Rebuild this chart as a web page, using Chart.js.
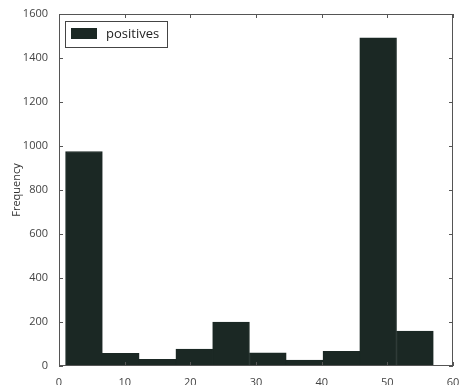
<!DOCTYPE html>
<html>
<head>
<meta charset="utf-8">
<script src="https://cdn.jsdelivr.net/npm/chart.js@4/dist/chart.umd.min.js"></script>
<style>
  html, body { margin: 0; padding: 0; background: #fff; }
  #wrap { width: 463px; height: 385px; }
</style>
</head>
<body>
<div id="wrap"><canvas id="grafico" width="463" height="385"></canvas></div>
<script>
// histograma: centros dos bins e frequencias
const binStart = 1.0;
const binWidth = 5.6;
const frequencias = [975, 58, 30, 77, 200, 60, 27, 67, 1492, 159];
const rotulo = 'positives';
const corBarra = '#1b2824';

const centros = frequencias.map((f, i) => binStart + binWidth * (i + 0.5));
const pontos = centros.map((c, i) => ({ x: c, y: frequencias[i] }));

// moldura, ticks para dentro e legenda no estilo matplotlib
const molduraPlugin = {
    id: 'moldura',
    afterDraw(chart) {
        const ctx = chart.ctx;
        const a = chart.chartArea;
        const sx = chart.scales.x;
        const sy = chart.scales.y;
        ctx.save();
        ctx.strokeStyle = '#555';
        ctx.lineWidth = 1;
        ctx.strokeRect(a.left + 0.5, a.top + 0.5, a.right - a.left - 1, a.bottom - a.top - 1);

        ctx.beginPath();
        sx.ticks.forEach(t => {
            const px = Math.round(sx.getPixelForValue(t.value)) + 0.5;
            ctx.moveTo(px, a.bottom); ctx.lineTo(px, a.bottom - 4);
            ctx.moveTo(px, a.top); ctx.lineTo(px, a.top + 4);
        });
        sy.ticks.forEach(t => {
            const py = Math.round(sy.getPixelForValue(t.value)) + 0.5;
            ctx.moveTo(a.left, py); ctx.lineTo(a.left + 4, py);
            ctx.moveTo(a.right, py); ctx.lineTo(a.right - 4, py);
        });
        ctx.stroke();

        // legenda
        const lx = a.left + 6, ly = a.top + 7;
        ctx.fillStyle = '#fff';
        ctx.fillRect(lx, ly, 102, 26);
        ctx.strokeStyle = '#444';
        ctx.strokeRect(lx + 0.5, ly + 0.5, 102, 26);
        ctx.fillStyle = corBarra;
        ctx.fillRect(lx + 6, ly + 7, 26, 11);
        ctx.fillStyle = '#222';
        ctx.font = '13px "Open Sans", "DejaVu Sans", sans-serif';
        ctx.textBaseline = 'middle';
        ctx.fillText(chart.data.datasets[0].label, lx + 41, ly + 13);
        ctx.restore();
    }
};

const fonteTick = { family: '"Open Sans", "DejaVu Sans", sans-serif', size: 11 };

new Chart(document.getElementById('grafico').getContext('2d'), {
    type: 'bar',
    data: {
        datasets: [{
            label: rotulo,
            data: pontos,
            backgroundColor: corBarra,
            borderColor: corBarra,
            borderWidth: 1,
            barPercentage: 1.0,
            categoryPercentage: 1.0
        }]
    },
    options: {
        responsive: false,
        animation: false,
        layout: { padding: { left: 0, top: 14, right: 10, bottom: 0 } },
        plugins: {
            legend: { display: false },
            tooltip: { enabled: false }
        },
        scales: {
            x: {
                type: 'linear',
                offset: false,
                min: 0,
                max: 60,
                ticks: { stepSize: 10, color: '#444', font: fonteTick, padding: 2, maxRotation: 0,
                         callback: v => String(v) },
                grid: { display: false, offset: false },
                border: { display: false },
                afterFit(scale) { scale.height = 19; }
            },
            y: {
                min: 0,
                max: 1600,
                ticks: { stepSize: 200, color: '#444', font: fonteTick, padding: 3,
                         callback: v => String(v) },
                grid: { display: false },
                border: { display: false },
                title: {
                    display: true,
                    text: 'Frequency',
                    color: '#333',
                    font: { family: '"Open Sans", "DejaVu Sans", sans-serif', size: 11 },
                    padding: { top: 10, bottom: 0 }
                },
                afterFit(scale) { scale.width = 59; }
            }
        }
    },
    plugins: [molduraPlugin]
});
</script>
</body>
</html>
